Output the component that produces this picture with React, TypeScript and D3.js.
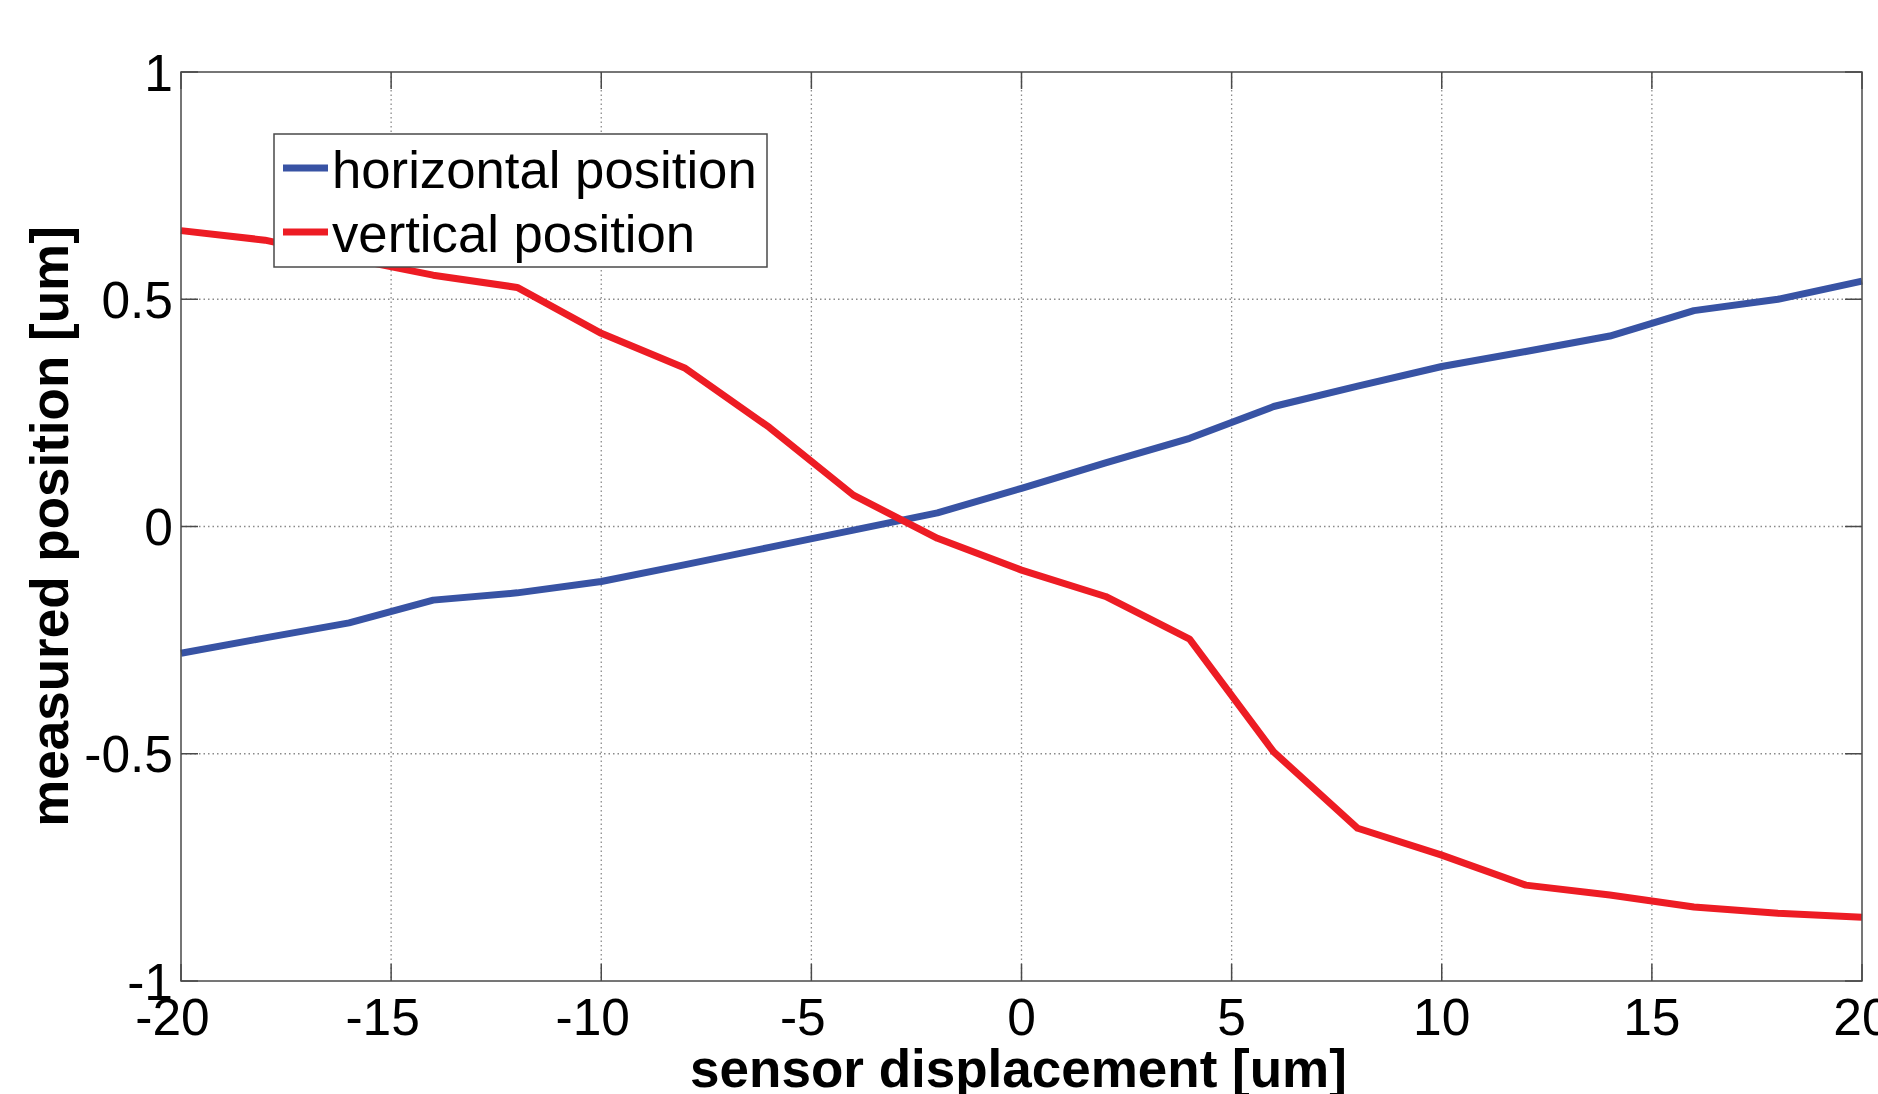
import React from "react";
import * as d3 from "d3";

const xValues = [-20, -18, -16, -14, -12, -10, -8, -6, -4, -2, 0, 2, 4, 6, 8, 10, 12, 14, 16, 18, 20];
const horizontalPosition = [-0.279, -0.245, -0.212, -0.162, -0.146, -0.121, -0.084, -0.046, -0.008, 0.030, 0.084, 0.140, 0.194, 0.264, 0.309, 0.352, 0.385, 0.419, 0.475, 0.500, 0.540];
const verticalPosition = [0.651, 0.630, 0.590, 0.553, 0.526, 0.425, 0.348, 0.218, 0.069, -0.026, -0.096, -0.154, -0.248, -0.496, -0.664, -0.723, -0.789, -0.811, -0.837, -0.851, -0.860];
const xTicks = [-20, -15, -10, -5, 0, 5, 10, 15, 20];
const yTicks = [-1, -0.5, 0, 0.5, 1];
const seriesNames = ["horizontal position", "vertical position"];
const seriesColors = ["#3853A4", "#ED1C24"];
const xLabel = "sensor displacement [um]";
const yLabel = "measured position [um]";

const W = 1878;
const H = 1094;
const M = { left: 181, right: 1862, top: 72, bottom: 981 };
const FONT = "'Liberation Sans', Arial, Helvetica, sans-serif";

export default function App() {
  const x = d3.scaleLinear().domain([-20, 20]).range([M.left, M.right]);
  const y = d3.scaleLinear().domain([-1, 1]).range([M.bottom, M.top]);
  const line = d3
    .line<number>()
    .x((_, i) => x(xValues[i]))
    .y((d) => y(d));
  const series = [horizontalPosition, verticalPosition];
  const tickLen = 17;
  const axisColor = "#4a4a4a";
  const gridColor = "#8a8a8a";

  return (
    <svg
      width={W}
      height={H}
      style={{ position: "absolute", left: 0, top: 0, background: "#fff" }}
      fontFamily={FONT}
    >
      <rect x={0} y={0} width={W} height={H} fill="#fff" />
      {/* grid */}
      {xTicks.slice(1, -1).map((t) => (
        <line key={"gx" + t} x1={x(t)} x2={x(t)} y1={M.top} y2={M.bottom} stroke={gridColor} strokeWidth={1.3} strokeDasharray="1.5 3" />
      ))}
      {yTicks.slice(1, -1).map((t) => (
        <line key={"gy" + t} x1={M.left} x2={M.right} y1={y(t)} y2={y(t)} stroke={gridColor} strokeWidth={1.3} strokeDasharray="1.5 3" />
      ))}
      {/* ticks */}
      {xTicks.map((t) => (
        <g key={"tx" + t}>
          <line x1={x(t)} x2={x(t)} y1={M.bottom} y2={M.bottom - tickLen} stroke={axisColor} strokeWidth={1.5} />
          <line x1={x(t)} x2={x(t)} y1={M.top} y2={M.top + tickLen} stroke={axisColor} strokeWidth={1.5} />
        </g>
      ))}
      {yTicks.map((t) => (
        <g key={"ty" + t}>
          <line x1={M.left} x2={M.left + tickLen} y1={y(t)} y2={y(t)} stroke={axisColor} strokeWidth={1.5} />
          <line x1={M.right} x2={M.right - tickLen} y1={y(t)} y2={y(t)} stroke={axisColor} strokeWidth={1.5} />
        </g>
      ))}
      {/* data lines */}
      {series.map((s, i) => (
        <path key={"s" + i} d={line(s) || ""} fill="none" stroke={seriesColors[i]} strokeWidth={7} strokeLinejoin="round" />
      ))}
      {/* axes box */}
      <rect x={M.left} y={M.top} width={M.right - M.left} height={M.bottom - M.top} fill="none" stroke={axisColor} strokeWidth={1.5} />
      {/* tick labels */}
      {xTicks.map((t) => (
        <text key={"lx" + t} x={x(t) - (t < 0 ? 8.5 : 0)} y={M.bottom + 54} fontSize={51.5} textAnchor="middle" fill="#000">
          {String(t)}
        </text>
      ))}
      {yTicks.map((t) => (
        <text key={"ly" + t} x={M.left - 8} y={y(t) + 18.5} fontSize={51.5} textAnchor="end" fill="#000">
          {String(t)}
        </text>
      ))}
      {/* axis labels */}
      <text x={(M.left + M.right) / 2 - 3} y={1087} fontSize={53} fontWeight="bold" textAnchor="middle" fill="#000">
        {xLabel}
      </text>
      <text
        transform={`translate(68, ${(M.top + M.bottom) / 2}) rotate(-90)`}
        fontSize={53}
        fontWeight="bold"
        textAnchor="middle"
        fill="#000"
      >
        {yLabel}
      </text>
      {/* legend */}
      <g>
        <rect x={274} y={134} width={493} height={133} fill="#fff" stroke={axisColor} strokeWidth={1.5} />
        {seriesNames.map((n, i) => (
          <g key={"lg" + i}>
            <line x1={283} x2={328} y1={168 + i * 64} y2={168 + i * 64} stroke={seriesColors[i]} strokeWidth={7} />
            <text x={332} y={188 + i * 64} fontSize={52.7} fill="#000">
              {n}
            </text>
          </g>
        ))}
      </g>
    </svg>
  );
}
